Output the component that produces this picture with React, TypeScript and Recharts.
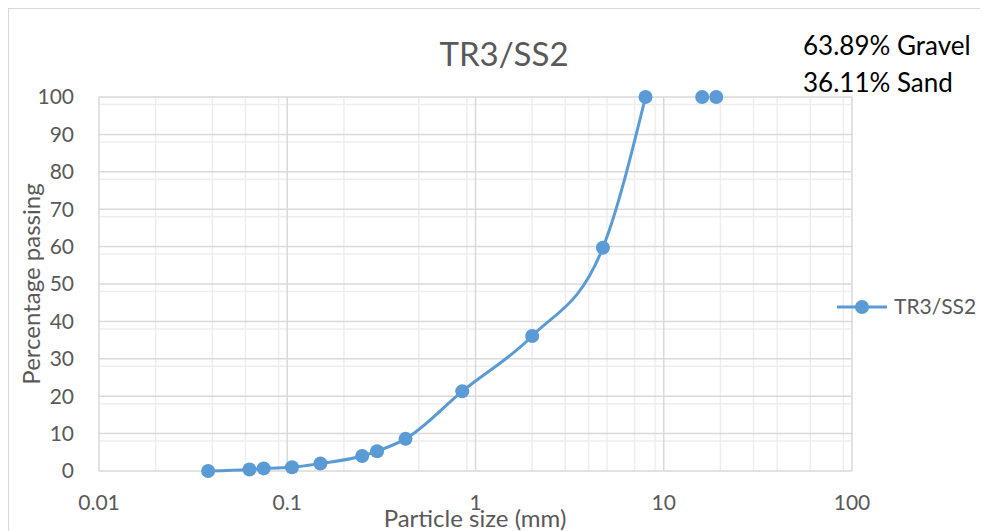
import React from 'react';
import { LineChart, Line, XAxis, YAxis, CartesianGrid, Legend } from 'recharts';

// sieve sizes (mm) and % passing
const curveSizes = [0.038, 0.063, 0.075, 0.106, 0.15, 0.25, 0.3, 0.425, 0.85, 2, 4.75, 8];
const curvePassing = [0, 0.4, 0.7, 1.0, 2.0, 4.0, 5.3, 8.6, 21.3, 36.1, 59.7, 100];
const tailSizes = [16, 19];
const tailPassing = [100, 100];

const xTicks = [0.01, 0.1, 1, 10, 100];
const yTicks = [0, 10, 20, 30, 40, 50, 60, 70, 80, 90, 100];

const seriesName = 'TR3/SS2';
const gravelNote = '63.89% Gravel';
const sandNote = '36.11% Sand';

const curveData = curveSizes.map((size, i) => ({ size, passing: curvePassing[i] }));
const tailData = tailSizes.map((size, i) => ({ size, passing: tailPassing[i] }));

const minorX = xTicks.slice(0, -1).flatMap((d) => [2, 3, 4, 5, 6, 7, 8, 9].map((k) => k * d));
const minorY = Array.from({ length: 51 }, (_, i) => i * 2).filter((v) => v % 10 !== 0);

const BLUE = '#5b9bd5';
const GREY_TEXT = '#595959';
const FONT = 'Lato, "Noto Sans", sans-serif';

const LegendContent = () => (
  <svg width={150} height={30}>
    <line x1={2} y1={15} x2={52} y2={15} stroke={BLUE} strokeWidth={3} />
    <circle cx={27} cy={15} r={7} fill={BLUE} />
    <text x={59} y={15} dy="0.35em" fontSize={21} fill={GREY_TEXT} fontFamily={FONT}>
      {seriesName}
    </text>
  </svg>
);

const App: React.FC = () => {
  return (
    <div
      style={{
        position: 'relative',
        width: 979,
        height: 522,
        borderTop: '1px solid #d9d9d9',
        borderLeft: '1px solid #d9d9d9',
        background: '#fff',
        fontFamily: FONT,
        overflow: 'hidden',
      }}
    >
      <LineChart width={979} height={522} margin={{ top: 88, right: 136, left: 30, bottom: 30 }}>
        <CartesianGrid stroke="#eeeeee" strokeWidth={1.5} horizontalValues={minorY} verticalValues={minorX} />
        <CartesianGrid stroke="#d9d9d9" strokeWidth={1.5} horizontalValues={yTicks} verticalValues={xTicks} />
        <XAxis
          dataKey="size"
          type="number"
          scale="log"
          domain={[0.01, 100]}
          ticks={xTicks}
          tickFormatter={(v) => String(v)}
          axisLine={false}
          tickLine={false}
          tickSize={0}
          tickMargin={24}
          height={30}
          tick={{ fill: GREY_TEXT, fontSize: 21, fontFamily: FONT }}
          allowDuplicatedCategory={false}
        />
        <YAxis
          type="number"
          domain={[0, 100]}
          ticks={yTicks}
          axisLine={false}
          tickLine={false}
          tickSize={0}
          tickMargin={25}
          width={60}
          tick={{ fill: GREY_TEXT, fontSize: 21, fontFamily: FONT }}
        />
        <Legend
          layout="horizontal"
          verticalAlign="middle"
          align="center"
          content={() => <LegendContent />}
          wrapperStyle={{ position: 'absolute', left: 826, top: 283, width: 150 }}
        />
        <Line
          data={curveData}
          dataKey="passing"
          name={seriesName}
          type="monotone"
          stroke={BLUE}
          strokeWidth={3}
          dot={{ r: 7, fill: BLUE, stroke: BLUE, strokeWidth: 0 }}
          isAnimationActive={false}
        />
        <Line
          data={tailData}
          dataKey="passing"
          name={seriesName}
          legendType="none"
          type="monotone"
          stroke="none"
          dot={{ r: 7, fill: BLUE, stroke: BLUE, strokeWidth: 0 }}
          isAnimationActive={false}
        />
      </LineChart>

      <div style={{ position: 'absolute', left: 295, width: 400, top: 24, textAlign: 'center', fontSize: 33, color: GREY_TEXT, lineHeight: '40px' }}>
        {seriesName}
      </div>
      <div style={{ position: 'absolute', left: 794, top: 18, fontSize: 26, color: '#000', lineHeight: '37px', whiteSpace: 'nowrap' }}>
        <div>{gravelNote}</div>
        <div>{sandNote}</div>
      </div>
      <div
        style={{
          position: 'absolute',
          left: 22,
          top: 275,
          transform: 'translate(-50%, -50%) rotate(-90deg)',
          fontSize: 24,
          color: GREY_TEXT,
          whiteSpace: 'nowrap',
          lineHeight: '28px',
        }}
      >
        Percentage passing
      </div>
      <div style={{ position: 'absolute', left: 266, width: 400, top: 494, textAlign: 'center', fontSize: 24, color: GREY_TEXT, lineHeight: '30px' }}>
        Particle size (mm)
      </div>
    </div>
  );
};

export default App;
